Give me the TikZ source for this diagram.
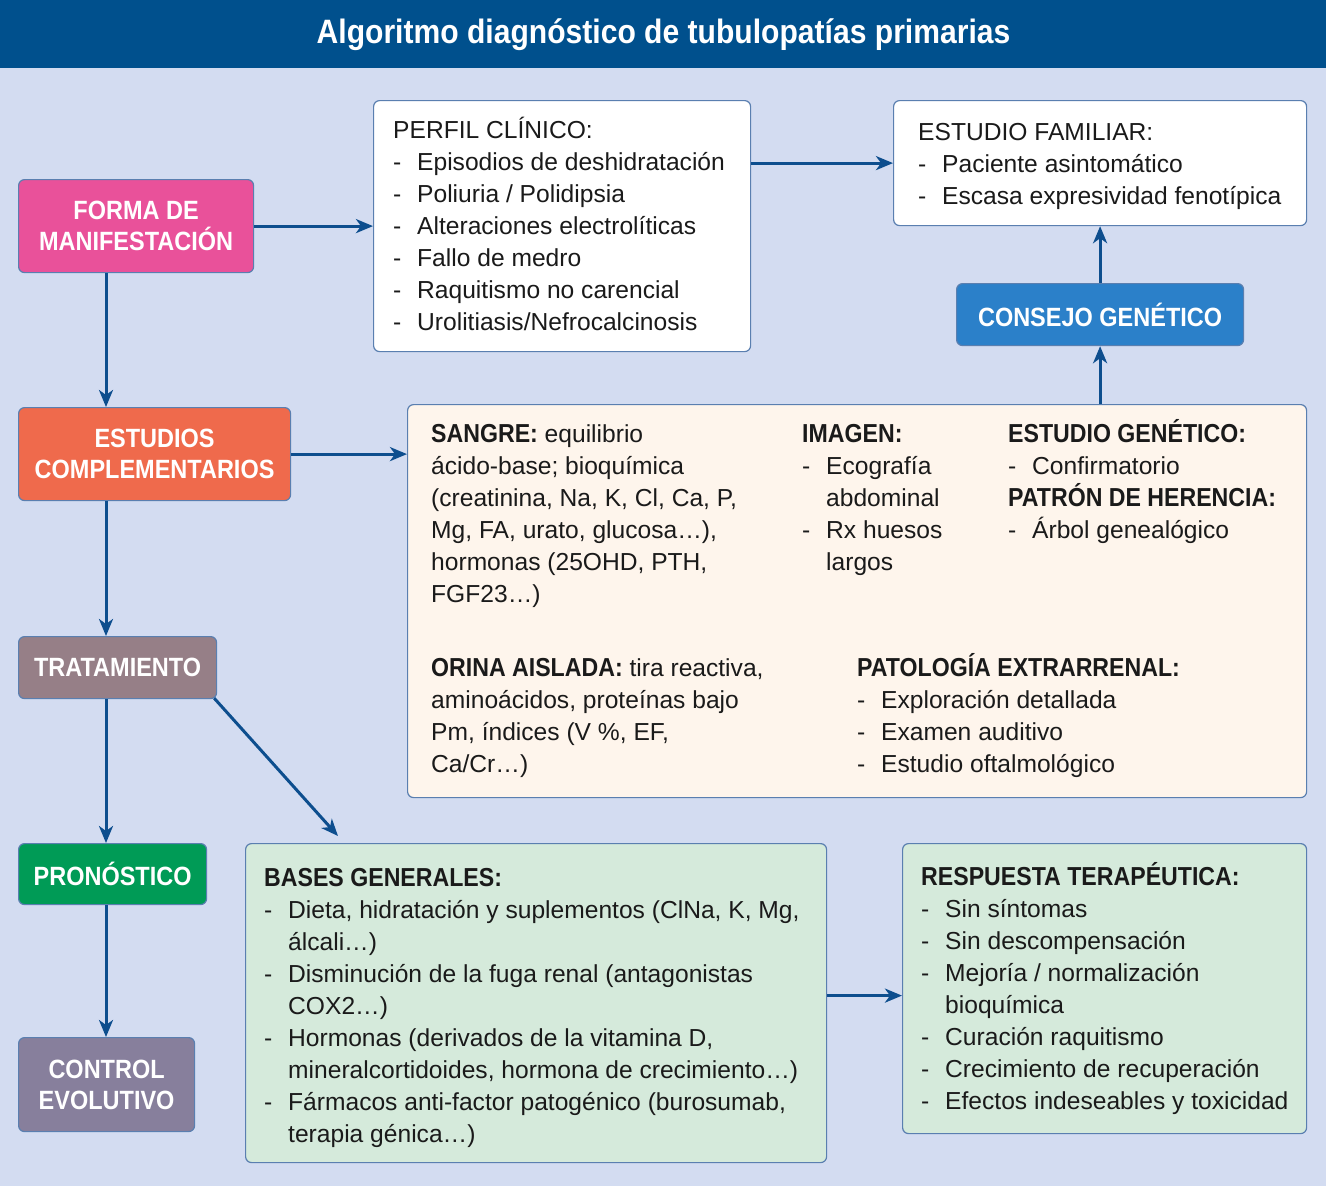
\documentclass[tikz,border=0pt]{standalone}
\usepackage{fontspec}
\setmainfont{Liberation Sans}
\newfontfamily\hb[FakeStretch=0.89]{Liberation Sans Bold}
\usetikzlibrary{arrows.meta}
\definecolor{bgc}{HTML}{D3DCF1}
\definecolor{hdr}{HTML}{00508D}
\definecolor{arrowc}{HTML}{0D4E8E}
\definecolor{boxline}{HTML}{5A7FB0}
\definecolor{pinkc}{HTML}{E9519A}
\definecolor{orangec}{HTML}{EF6A4C}
\definecolor{mauvec}{HTML}{967F87}
\definecolor{greenc}{HTML}{009B56}
\definecolor{violetc}{HTML}{877F9C}
\definecolor{bluec}{HTML}{2B80C9}
\definecolor{creamc}{HTML}{FEF5EC}
\definecolor{lgreenc}{HTML}{D5EADB}
\definecolor{textc}{HTML}{1A1A1A}
\newcommand\itm{\makebox[24pt][l]{-}}
\newcommand\ind{\hspace*{24pt}}
\newcommand\txtfont{\fontsize{24.6}{32}\selectfont}
\newcommand\hd[1]{{\hb\fontsize{26}{32}\selectfont #1}}
\newcommand\blk[1]{\parbox[t]{560pt}{\raggedright #1}}
\tikzset{
  box/.style={draw=boxline, line width=1.2pt, rounded corners=6pt, inner sep=0pt, anchor=north west},
  lab/.style={box, text=white, font=\hb\fontsize{26.4}{31}\selectfont, align=center},
  txt/.style={anchor=base west, inner sep=0pt, text=textc, font=\txtfont},
  arr/.style={draw=arrowc, line width=3pt, -{Stealth[length=17pt,width=14pt,inset=5pt]}}
}
\begin{document}
\begin{tikzpicture}[x=1pt,y=-1pt]
\useasboundingbox (0,0) rectangle (1326,1186);
\fill[bgc] (0,0) rectangle (1326,1186);
\fill[hdr] (0,0) rectangle (1326,67.5);
\node[anchor=base, inner sep=0pt, text=white, font=\hb\fontsize{33.8}{40}\selectfont] (title) at (663.5,43.5) {Algoritmo diagnóstico de tubulopatías primarias};

% boxes
\node[lab, fill=pinkc, minimum width=235, minimum height=93] (forma) at (18,179) {FORMA DE\\MANIFESTACIÓN};
\node[box, fill=white, minimum width=377, minimum height=251] (perfil) at (373,100) {};
\node[box, fill=white, minimum width=413, minimum height=125] (familiar) at (893,100) {};
\node[lab, fill=bluec, minimum width=287, minimum height=62] (consejo) at (956,283) {CONSEJO GENÉTICO};
\node[lab, fill=orangec, minimum width=272, minimum height=93] (estud) at (18,407) {ESTUDIOS\\COMPLEMENTARIOS};
\node[box, fill=creamc, minimum width=899, minimum height=393] (crema) at (407,404) {};
\node[lab, fill=mauvec, minimum width=198, minimum height=62] (trat) at (18,636) {TRATAMIENTO};
\node[lab, fill=greenc, minimum width=188, minimum height=61] (pron) at (18,843) {PRONÓSTICO};
\node[lab, fill=violetc, minimum width=176, minimum height=94] (control) at (18,1037) {CONTROL\\EVOLUTIVO};
\node[box, fill=lgreenc, minimum width=581, minimum height=319] (bases) at (245,843) {};
\node[box, fill=lgreenc, minimum width=404, minimum height=290] (resp) at (902,843) {};

% texts
\node[txt] (tperfil) at (393,138) {\blk{PERFIL CLÍNICO:\\
\itm Episodios de deshidratación\\
\itm Poliuria / Polidipsia\\
\itm Alteraciones electrolíticas\\
\itm Fallo de medro\\
\itm Raquitismo no carencial\\
\itm Urolitiasis/Nefrocalcinosis}};
\node[txt] (tfam) at (918,140) {\blk{ESTUDIO FAMILIAR:\\
\itm Paciente asintomático\\
\itm Escasa expresividad fenotípica}};
\node[txt] (tsangre) at (431,442) {\blk{\hd{SANGRE:} equilibrio\\
ácido-base; bioquímica\\
(creatinina, Na, K, Cl, Ca, P,\\
Mg, FA, urato, glucosa…),\\
hormonas (25OHD, PTH,\\
FGF23…)}};
\node[txt] (timagen) at (802,442) {\blk{\hd{IMAGEN:}\\
\itm Ecografía\\
\ind abdominal\\
\itm Rx huesos\\
\ind largos}};
\node[txt] (tgen) at (1008,442) {\blk{\hd{ESTUDIO GENÉTICO:}\\
\itm Confirmatorio\\
\hd{PATRÓN DE HERENCIA:}\\
\itm Árbol genealógico}};
\node[txt] (torina) at (431,676) {\blk{\hd{ORINA AISLADA:} tira reactiva,\\
aminoácidos, proteínas bajo\\
Pm, índices (V~\%, EF,\\
Ca/Cr…)}};
\node[txt] (tpatol) at (857,676) {\blk{\hd{PATOLOGÍA EXTRARRENAL:}\\
\itm Exploración detallada\\
\itm Examen auditivo\\
\itm Estudio oftalmológico}};
\node[txt] (tbases) at (264,886) {\blk{\hd{BASES GENERALES:}\\
\itm Dieta, hidratación y suplementos (ClNa, K, Mg,\\
\ind álcali…)\\
\itm Disminución de la fuga renal (antagonistas\\
\ind COX2…)\\
\itm Hormonas (derivados de la vitamina D,\\
\ind mineralcortidoides, hormona de crecimiento…)\\
\itm Fármacos anti-factor patogénico (burosumab,\\
\ind terapia génica…)}};
\node[txt] (tresp) at (921,885) {\blk{\hd{RESPUESTA TERAPÉUTICA:}\\
\itm Sin síntomas\\
\itm Sin descompensación\\
\itm Mejoría / normalización\\
\ind bioquímica\\
\itm Curación raquitismo\\
\itm Crecimiento de recuperación\\
\itm Efectos indeseables y toxicidad}};

% arrows
\coordinate (sp) at (106,0);
\coordinate (dtip) at (338,836);
\draw[arr] (forma.south -| sp) -- (estud.north -| sp);
\draw[arr] (estud.south -| sp) -- (trat.north -| sp);
\draw[arr] (trat.south -| sp) -- (pron.north -| sp);
\draw[arr] (pron.south -| sp) -- (control.north -| sp);
\draw[arr] (forma.east) -- (forma.east -| perfil.west);
\draw[arr] (familiar.west -| perfil.east) -- (familiar.west);
\draw[arr] (estud.east) -- (estud.east -| crema.west);
\draw[arr] (crema.north -| consejo.south) -- (consejo.south);
\draw[arr] (consejo.north) -- (consejo.north |- familiar.south);
\draw[arr] ([xshift=-3pt,yshift=1pt]trat.south east) -- (dtip);
\draw[arr] ([yshift=7.5pt]bases.east) -- ([yshift=7.5pt]bases.east -| resp.west);
\end{tikzpicture}
\end{document}
